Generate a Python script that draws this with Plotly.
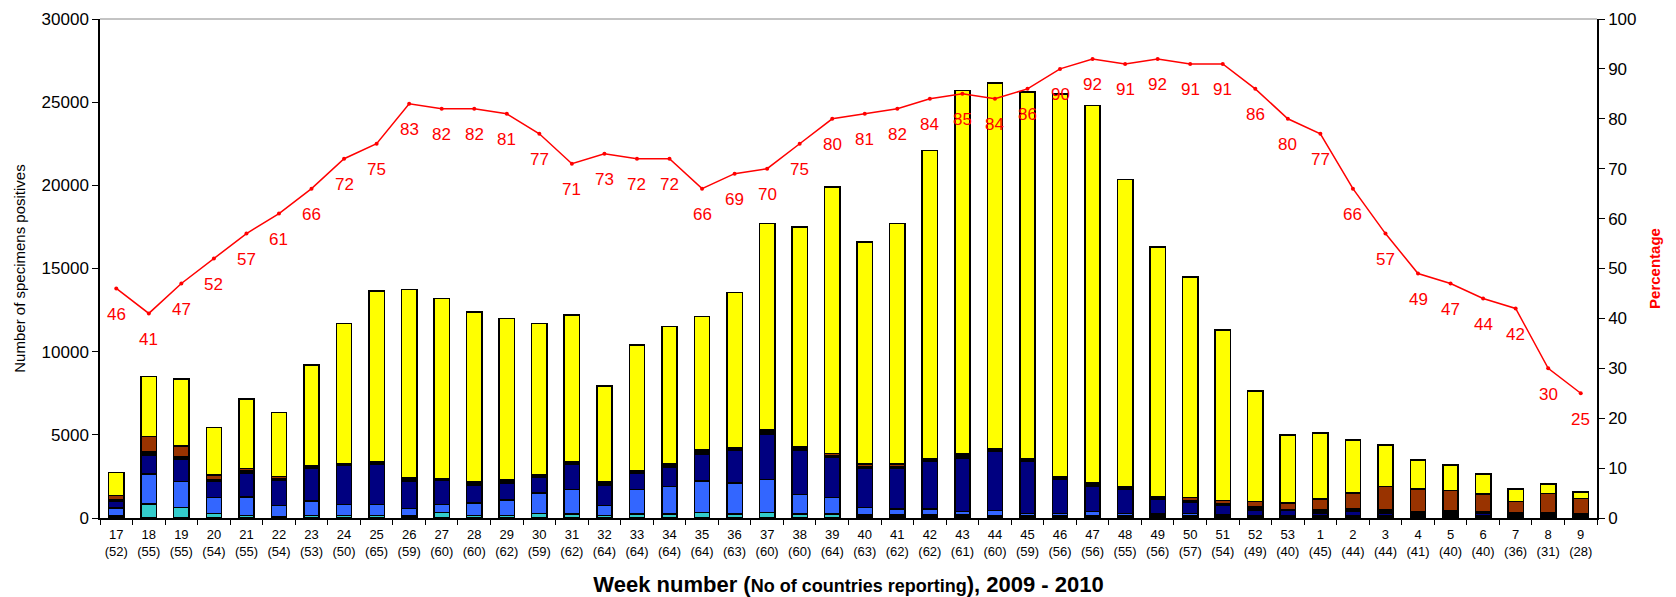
import plotly.graph_objects as go

weeks = [17, 18, 19, 20, 21, 22, 23, 24, 25, 26, 27, 28, 29, 30, 31, 32, 33, 34, 35, 36,
         37, 38, 39, 40, 41, 42, 43, 44, 45, 46, 47, 48, 49, 50, 51, 52, 53,
         1, 2, 3, 4, 5, 6, 7, 8, 9]
countries = [52, 55, 55, 54, 55, 54, 53, 50, 65, 59, 60, 60, 62, 59, 62, 64, 64, 64, 64, 63,
             60, 60, 64, 63, 62, 62, 61, 60, 59, 56, 56, 55, 56, 57, 54, 49, 40,
             45, 44, 44, 41, 40, 40, 36, 31, 28]

# stacked components (bottom to top)
a_unknown = [150, 0, 0, 0, 0, 100, 0, 0, 0, 0, 0, 0, 0, 0, 0, 0, 0, 0, 0, 0,
             0, 0, 0, 180, 180, 180, 80, 120, 120, 120, 120, 120, 240, 120, 200, 80, 140,
             140, 140, 140, 140, 140, 140, 280, 280, 200]
a_h1 = [0, 840, 640, 280, 150, 0, 150, 150, 150, 120, 340, 150, 150, 280, 240, 150, 240, 240, 340, 240,
        340, 240, 240, 0, 0, 0, 100, 0, 0, 0, 0, 0, 0, 0, 0, 0, 0,
        0, 0, 0, 0, 0, 0, 0, 0, 0]
a_h3 = [450, 1800, 1560, 960, 1100, 660, 860, 660, 660, 460, 460, 760, 920, 1220, 1460, 600, 1460, 1640, 1870, 1870,
        1970, 1160, 1000, 460, 360, 360, 220, 320, 140, 140, 260, 140, 0, 160, 0, 80, 0,
        0, 0, 0, 0, 0, 0, 0, 0, 0]
a_nst = [380, 1140, 1340, 940, 1440, 1480, 2000, 2390, 2450, 1650, 1440, 1080, 1040, 940, 1540, 1240, 980, 1160, 1640, 1950,
         2750, 2650, 2400, 2350, 2450, 2850, 3200, 3550, 3130, 2070, 1540, 1440, 900, 660, 540, 320, 300,
         160, 260, 160, 100, 100, 140, 0, 0, 0]
a_h5 = [120, 60, 140, 140, 150, 100, 140, 60, 100, 200, 100, 160, 160, 160, 160, 160, 160, 200, 260, 160,
        100, 240, 100, 100, 100, 160, 240, 160, 160, 160, 200, 160, 140, 80, 100, 180, 60,
        200, 160, 200, 120, 60, 120, 60, 60, 60]
a_other = [0, 130, 0, 0, 0, 0, 0, 0, 0, 0, 0, 0, 0, 0, 0, 0, 0, 0, 0, 0,
           0, 0, 0, 0, 0, 0, 0, 0, 0, 0, 0, 0, 0, 0, 0, 0, 0,
           0, 0, 0, 0, 120, 0, 0, 0, 0]
b_vals = [250, 940, 660, 260, 150, 160, 0, 0, 0, 0, 0, 0, 0, 0, 0, 0, 0, 0, 0, 0,
          140, 0, 140, 160, 160, 0, 0, 0, 0, 0, 0, 0, 0, 220, 200, 320, 400,
          640, 940, 1380, 1380, 1220, 1040, 660, 1120, 900]
totals = [2750, 8500, 8350, 5450, 7150, 6350, 9200, 11700, 13650, 13750, 13200, 12400, 12000, 11700, 12200, 7950, 10400, 11500, 12100, 13550,
          17700, 17500, 19900, 16600, 17700, 22100, 25700, 26150, 25600, 25500, 24800, 20350, 16300, 14500, 11300, 7650, 5000,
          5100, 4700, 4400, 3500, 3200, 2650, 1750, 2050, 1550]
percent = [46, 41, 47, 52, 57, 61, 66, 72, 75, 83, 82, 82, 81, 77, 71, 73, 72, 72, 66, 69,
           70, 75, 80, 81, 82, 84, 85, 84, 86, 90, 92, 91, 92, 91, 91, 86, 80,
           77, 66, 57, 49, 47, 44, 42, 30, 25]

labels = [f"{w}<br>({c})" for w, c in zip(weeks, countries)]
lower = [a_unknown, a_h1, a_h3, a_nst, a_h5, a_other, b_vals]
pandemic = [t - sum(s[i] for s in lower) for i, t in enumerate(totals)]

series = [
    ("A (no subtype)", a_unknown, "#000000"),
    ("A(H1)", a_h1, "#33CCCC"),
    ("A(H3)", a_h3, "#3366FF"),
    ("A (not subtyped)", a_nst, "#000080"),
    ("A(H5)", a_h5, "#000000"),
    ("Other", a_other, "#FF6600"),
    ("B", b_vals, "#993300"),
    ("A(H1N1) pandemic", pandemic, "#FFFF00"),
]

fig = go.Figure()
for name, vals, col in series:
    fig.add_trace(go.Bar(x=labels, y=vals, name=name, marker=dict(color=col, line=dict(color="#000000", width=1.5))))

fig.add_trace(go.Scatter(x=labels, y=percent, yaxis="y2", mode="lines+markers", name="Percentage",
                         line=dict(color="#FF0000", width=1.5), marker=dict(color="#FF0000", size=4)))

for lab, p in zip(labels, percent):
    fig.add_annotation(x=lab, y=p, yref="y2", text=str(p), showarrow=False, yshift=-26,
                       font=dict(color="#FF0000", size=17, family="Liberation Sans"))

fig.update_layout(
    width=1668, height=589,
    margin=dict(l=92, r=79, t=11, b=79, autoexpand=False),
    barmode="stack", bargap=0.53,
    plot_bgcolor="white", paper_bgcolor="white",
    showlegend=False,
    font=dict(family="Liberation Sans", color="#000000"),
    xaxis=dict(type="category", range=[-0.5, len(labels) - 0.5], tickson="boundaries", ticks="outside",
               ticklen=5, tickcolor="#000000", ticklabelstandoff=4, automargin=False,
               showline=True, linecolor="#000000", linewidth=1.5, tickfont=dict(size=13),
               tickangle=0,
               title=dict(text="<b>Week number (<span style='font-size:18px'>No of countries reporting</span>), 2009 - 2010</b>",
                          font=dict(size=22), standoff=21)),
    yaxis=dict(range=[0, 30000], dtick=5000, tickformat="d", ticks="outside", ticklen=6, tickcolor="#000000",
               showline=True, linecolor="#000000", linewidth=1.5, showgrid=False, zeroline=False,
               tickfont=dict(size=17), automargin=False,
               title=dict(text="Number of specimens positives", font=dict(size=15), standoff=12)),
    yaxis2=dict(range=[0, 100], dtick=10, overlaying="y", side="right", ticks="outside", ticklen=6,
                tickcolor="#000000", showline=True, linecolor="#000000", linewidth=1.5, showgrid=False,
                zeroline=False, tickfont=dict(size=17), automargin=False,
                title=dict(text="<b>Percentage</b>", font=dict(size=15, color="#FF0000"), standoff=14)),
)
fig.add_shape(type="line", xref="paper", yref="paper", x0=0, x1=1, y0=1, y1=1,
              line=dict(color="#888888", width=1))

fig.write_html("out.html")
